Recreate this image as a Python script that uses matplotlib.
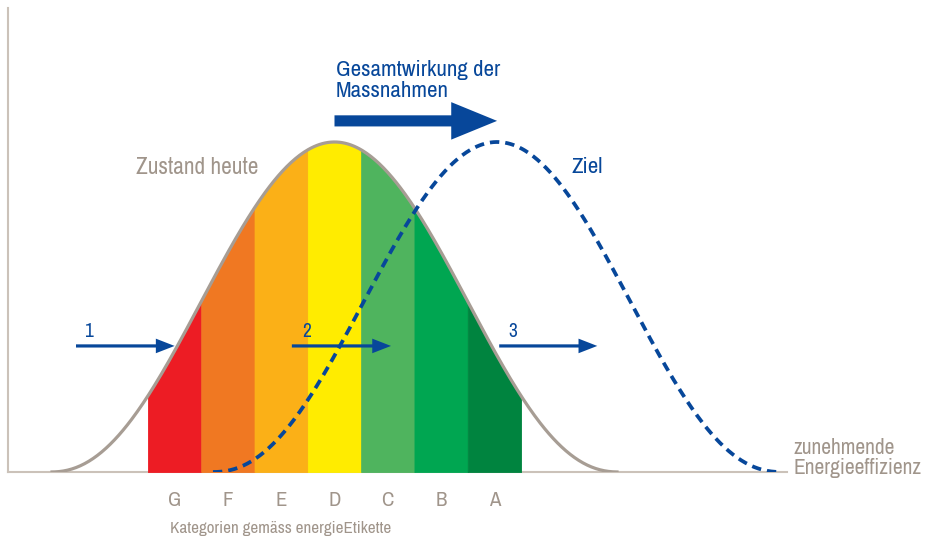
import numpy as np
import matplotlib
matplotlib.use("Agg")
import matplotlib.pyplot as plt
from matplotlib import font_manager as fm
from matplotlib.patches import FancyArrowPatch

# ---------------- data ----------------
categories = ["G", "F", "E", "D", "C", "B", "A"]
band_colors = ["#ed1c24", "#f07822", "#fbb017", "#ffec00", "#4fb45e", "#00a651", "#00843f"]
today_center = 3.0        # peak of "Zustand heute" (category D)
curve_halfwidth = 5.33    # half width of bell (in category units)
curve_peak = 1.0
curve_sharpness = 1.1
target_shift = 3.05       # shift of "Ziel" curve
arrow_y = 0.382
small_arrows = [(-1.85, 0.0), (2.2, 4.06), (6.09, 7.93)]
small_labels = ["1", "2", "3"]
big_arrow = (today_center, today_center + target_shift, 1.064)

BLUE = "#07479a"
GREY_TXT = "#a0958b"
GREY_CURVE = "#a79d94"
AXIS = "#cbc2b9"

# font choice: prefer a narrow face if one is installed
FONT, S = "Liberation Sans", 0.84
narrow = [f.name for f in fm.fontManager.ttflist
          if ("Narrow" in f.name or "Condensed" in f.name) and "Mono" not in f.name]
if narrow:
    FONT, S = sorted(narrow)[0], 1.0
plt.rcParams["font.family"] = [FONT, "DejaVu Sans"]


def bell(u, c):
    d = np.clip(np.abs(u - c) / curve_halfwidth, 0, 1)
    return curve_peak * ((1 + np.cos(np.pi * d)) / 2) ** curve_sharpness


W, H = 928, 538
fig = plt.figure(figsize=(W / 100, H / 100), dpi=100)
x0, x1, ybase, ytop = 8, 787, 472, 8
ax = fig.add_axes([x0 / W, (H - ybase) / H, (x1 - x0) / W, (ybase - ytop) / H])
px_unit, u0 = 53.3, 174.6
ax.set_xlim((x0 - u0) / px_unit, (x1 - u0) / px_unit)
ax.set_ylim(0, (ybase - ytop) / 330.0)

for s in ["top", "right"]:
    ax.spines[s].set_visible(False)
for s in ["left", "bottom"]:
    ax.spines[s].set_color(AXIS)
    ax.spines[s].set_linewidth(1.5)
    ax.spines[s].set_zorder(1)
ax.set_yticks([])
ax.set_xticks(range(len(categories)))
ax.set_xticklabels(categories, fontsize=15 if S == 1.0 else 13, color=GREY_TXT)
ax.tick_params(axis="x", length=0, pad=14)

# bands
for i, col in enumerate(band_colors):
    xs = np.linspace(i - 0.5, i + 0.5, 80)
    ax.fill_between(xs, 0, bell(xs, today_center), color=col, lw=0.6, edgecolor=col, zorder=2)

# today curve
xs = np.linspace(today_center - curve_halfwidth, today_center + curve_halfwidth, 400)
ax.plot(xs, bell(xs, today_center), color=GREY_CURVE, lw=2.3, zorder=3, solid_capstyle="butt")

# target curve
tc = today_center + target_shift
xs2 = np.linspace(tc - curve_halfwidth, tc + curve_halfwidth, 400)
ax.plot(xs2, bell(xs2, tc), color=BLUE, lw=2.7, ls=(0, (2.5, 1.6)), zorder=4,
        dash_capstyle="butt")

# arrows
for (a, b) in small_arrows:
    ax.add_patch(FancyArrowPatch((a, arrow_y), (b, arrow_y),
                 arrowstyle="simple,head_length=13.5,head_width=10.5,tail_width=2.3",
                 mutation_scale=1, color=BLUE, lw=0, shrinkA=0, shrinkB=0, zorder=5))
ax.add_patch(FancyArrowPatch((big_arrow[0], big_arrow[2]), (big_arrow[1], big_arrow[2]),
             arrowstyle="simple,head_length=33,head_width=27,tail_width=8",
             mutation_scale=1, color=BLUE, lw=0, shrinkA=0, shrinkB=0, zorder=5,
             clip_on=False))


def ftext(x, y, s, **kw):
    fig.text(x / W, 1 - y / H, s, va="baseline", ha="left", **kw)


ftext(336, 76, "Gesamtwirkung der", fontsize=16.5 * S, color=BLUE)
ftext(336, 97, "Massnahmen", fontsize=16.5 * S, color=BLUE)
ftext(136, 174, "Zustand heute", fontsize=16.8 * S, color=GREY_TXT)
ftext(572, 173, "Ziel", fontsize=16.5 * S, color=BLUE)
for lab, xp in zip(small_labels, [84, 302, 508]):
    ftext(xp, 337, lab, fontsize=14, color=BLUE)
ftext(170, 533, "Kategorien gemäss energieEtikette", fontsize=12.3 * S, color=GREY_TXT)
ftext(794, 454, "zunehmende", fontsize=15.5 * S, color=GREY_TXT)
ftext(794, 474, "Energieeffizienz", fontsize=15.5 * S, color=GREY_TXT)

fig.savefig("out.png", dpi=100)
